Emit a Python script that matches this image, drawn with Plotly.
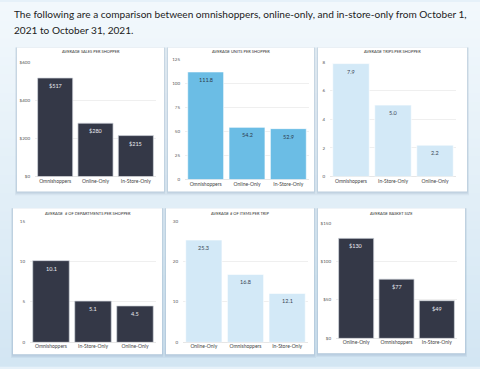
import plotly.graph_objects as go

W, H = 480, 369

# ---------------- data ----------------
sales_cats = ["Omnishoppers", "Online-Only", "In-Store-Only"]
sales_vals = [517, 280, 215]

units_cats = ["Omnishoppers", "Online-Only", "In-Store-Only"]
units_vals = [111.8, 54.2, 52.9]

trips_cats = ["Omnishoppers", "In-Store-Only", "Online-Only"]
trips_vals = [7.9, 5.0, 2.2]

depts_cats = ["Omnishoppers", "In-Store-Only", "Online-Only"]
depts_vals = [10.1, 5.1, 4.5]

items_cats = ["Online-Only", "Omnishoppers", "In-Store-Only"]
items_vals = [25.3, 16.8, 12.1]

basket_cats = ["Online-Only", "Omnishoppers", "In-Store-Only"]
basket_vals = [130, 77, 49]

titles = ["AVERAGE SALES PER SHOPPER", "AVERAGE UNITS PER SHOPPER", "AVERAGE TRIPS PER SHOPPER",
          "AVERAGE  # OF DEPARTMENTS PER SHOPPER", "AVERAGE # OF ITEMS PER TRIP", "AVERAGE BASKET SIZE"]

sales_ticks = [0, 200, 400, 600]
units_ticks = [0, 25, 50, 75, 100, 125]
trips_ticks = [0, 2, 4, 6, 8]
depts_ticks = [0, 5, 10, 15]
items_ticks = [0, 10, 20, 30]
basket_ticks = [0, 50, 100, 150]

heading = ["The following are a comparison between omnishoppers, online-only, and in-store-only from October 1,",
           "2021 to October 31, 2021."]

# ---------------- styling ----------------
DARK = "#343847"
MID = "#6bbde5"
LIGHT = "#d3e9f7"
FONT = "Lato, 'Open Sans', sans-serif"


def fx(px):
    return px / W


def fy(py):
    return 1 - py / H


panels = [
    dict(box=(17, 46, 164, 192), plot=(35, 61, 156, 177), cats=sales_cats, vals=sales_vals,
         ticks=sales_ticks, pre="$", fmt="{:.0f}", color=DARK, tc="#e8eaf0", ty=50),
    dict(box=(168, 46, 314, 192), plot=(185, 58, 309, 180), cats=units_cats, vals=units_vals,
         ticks=units_ticks, pre="", fmt="{:.1f}", color=MID, tc="#2b3a4a", ty=50),
    dict(box=(318, 46, 467, 192), plot=(330, 61, 456, 177), cats=trips_cats, vals=trips_vals,
         ticks=trips_ticks, pre="", fmt="{:.1f}", color=LIGHT, tc="#3a4654", ty=50),
    dict(box=(13, 209, 162, 357), plot=(30, 222, 156, 345), cats=depts_cats, vals=depts_vals,
         ticks=depts_ticks, pre="", fmt="{:.1f}", color=DARK, tc="#e8eaf0", ty=214),
    dict(box=(166, 209, 314, 357), plot=(183, 222, 308, 345), cats=items_cats, vals=items_vals,
         ticks=items_ticks, pre="", fmt="{:.1f}", color=LIGHT, tc="#3a4654", ty=214),
    dict(box=(318, 209, 465, 356), plot=(336, 224, 457, 341), cats=basket_cats, vals=basket_vals,
         ticks=basket_ticks, pre="$", fmt="{:.0f}", color=DARK, tc="#e8eaf0", ty=214),
]

fig = go.Figure()
shapes = []
annotations = []

# background gradient bands
top = (242, 248, 252)
bot = (211, 230, 243)
n = 40
for i in range(n):
    t = i / (n - 1)
    c = tuple(int(round(top[k] + (bot[k] - top[k]) * t)) for k in range(3))
    shapes.append(dict(type="rect", xref="paper", yref="paper", x0=0, x1=1,
                       y0=1 - (i + 1) / n - 0.002, y1=1 - i / n,
                       fillcolor="rgb(%d,%d,%d)" % c, line=dict(width=0), layer="below"))

for i, p in enumerate(panels):
    k = "" if i == 0 else str(i + 1)
    x0, y0, x1, y1 = p["box"]
    # shadow
    for s, a in [(4, 0.10), (2.5, 0.14), (1.2, 0.18)]:
        shapes.append(dict(type="rect", xref="paper", yref="paper",
                           x0=fx(x0 - s / 2), x1=fx(x1 + s / 2), y0=fy(y1 + s), y1=fy(y0),
                           fillcolor="rgba(120,150,175,%.2f)" % a, line=dict(width=0), layer="below"))
    shapes.append(dict(type="rect", xref="paper", yref="paper", x0=fx(x0), x1=fx(x1),
                       y0=fy(y1), y1=fy(y0), fillcolor="white", line=dict(width=0), layer="below"))
    px0, py0, px1, py1 = p["plot"]
    line_col = "rgba(210,214,222,0.9)" if p["color"] == DARK else "rgba(255,255,255,0.8)"
    fig.add_trace(go.Bar(
        x=p["cats"], y=p["vals"], xaxis="x" + k, yaxis="y" + k,
        marker=dict(color=p["color"], line=dict(color=line_col, width=0.8)),
        showlegend=False, hoverinfo="skip",
    ))
    for c, v in zip(p["cats"], p["vals"]):
        annotations.append(dict(text=p["pre"] + p["fmt"].format(v), xref="x" + k, yref="y" + k,
                                x=c, y=v, xanchor="center", yanchor="top", yshift=-3,
                                showarrow=False,
                                font=dict(size=5.5, color=p["tc"], family=FONT)))
    tick_text = [p["pre"] + str(t) for t in p["ticks"]]
    fig.layout["xaxis" + k] = dict(domain=[fx(px0), fx(px1)], anchor="y" + k,
                                   categoryorder="array", categoryarray=p["cats"],
                                   tickfont=dict(size=5, color="#444", family=FONT),
                                   showgrid=False, showline=False, ticks="", ticklen=0,
                                   fixedrange=True)
    fig.layout["yaxis" + k] = dict(domain=[fy(py1), fy(py0)], anchor="x" + k,
                                   range=[0, p["ticks"][-1]], tickmode="array",
                                   tickvals=p["ticks"], ticktext=tick_text,
                                   tickfont=dict(size=4.5, color="#555", family=FONT),
                                   showgrid=True, gridcolor="#efefef", gridwidth=0.6,
                                   zeroline=True, zerolinecolor="#e6e6e6", zerolinewidth=0.6,
                                   showline=False, ticks="", ticklabelstandoff=4,
                                   fixedrange=True)
    annotations.append(dict(text=titles[i], xref="paper", yref="paper",
                            x=fx((x0 + x1) / 2), y=fy(p["ty"]), xanchor="center", yanchor="middle",
                            showarrow=False, font=dict(size=4, color="#333", family=FONT)))

annotations.append(dict(text=heading[0], xref="paper", yref="paper", x=fx(12), y=fy(12),
                        xanchor="left", yanchor="middle", showarrow=False,
                        font=dict(size=10.1, color="#222", family=FONT)))
annotations.append(dict(text=heading[1], xref="paper", yref="paper", x=fx(12), y=fy(28),
                        xanchor="left", yanchor="middle", showarrow=False,
                        font=dict(size=10.1, color="#222", family=FONT)))

fig.update_layout(width=W, height=H, margin=dict(l=0, r=0, t=0, b=0),
                  paper_bgcolor="#e6f1f9", plot_bgcolor="rgba(0,0,0,0)",
                  bargap=0.13, shapes=shapes, annotations=annotations,
                  font=dict(family=FONT))

fig.write_html("out.html", config=dict(displayModeBar=False),
               post_script="document.body.style.margin='0';document.body.style.overflow='hidden';")
